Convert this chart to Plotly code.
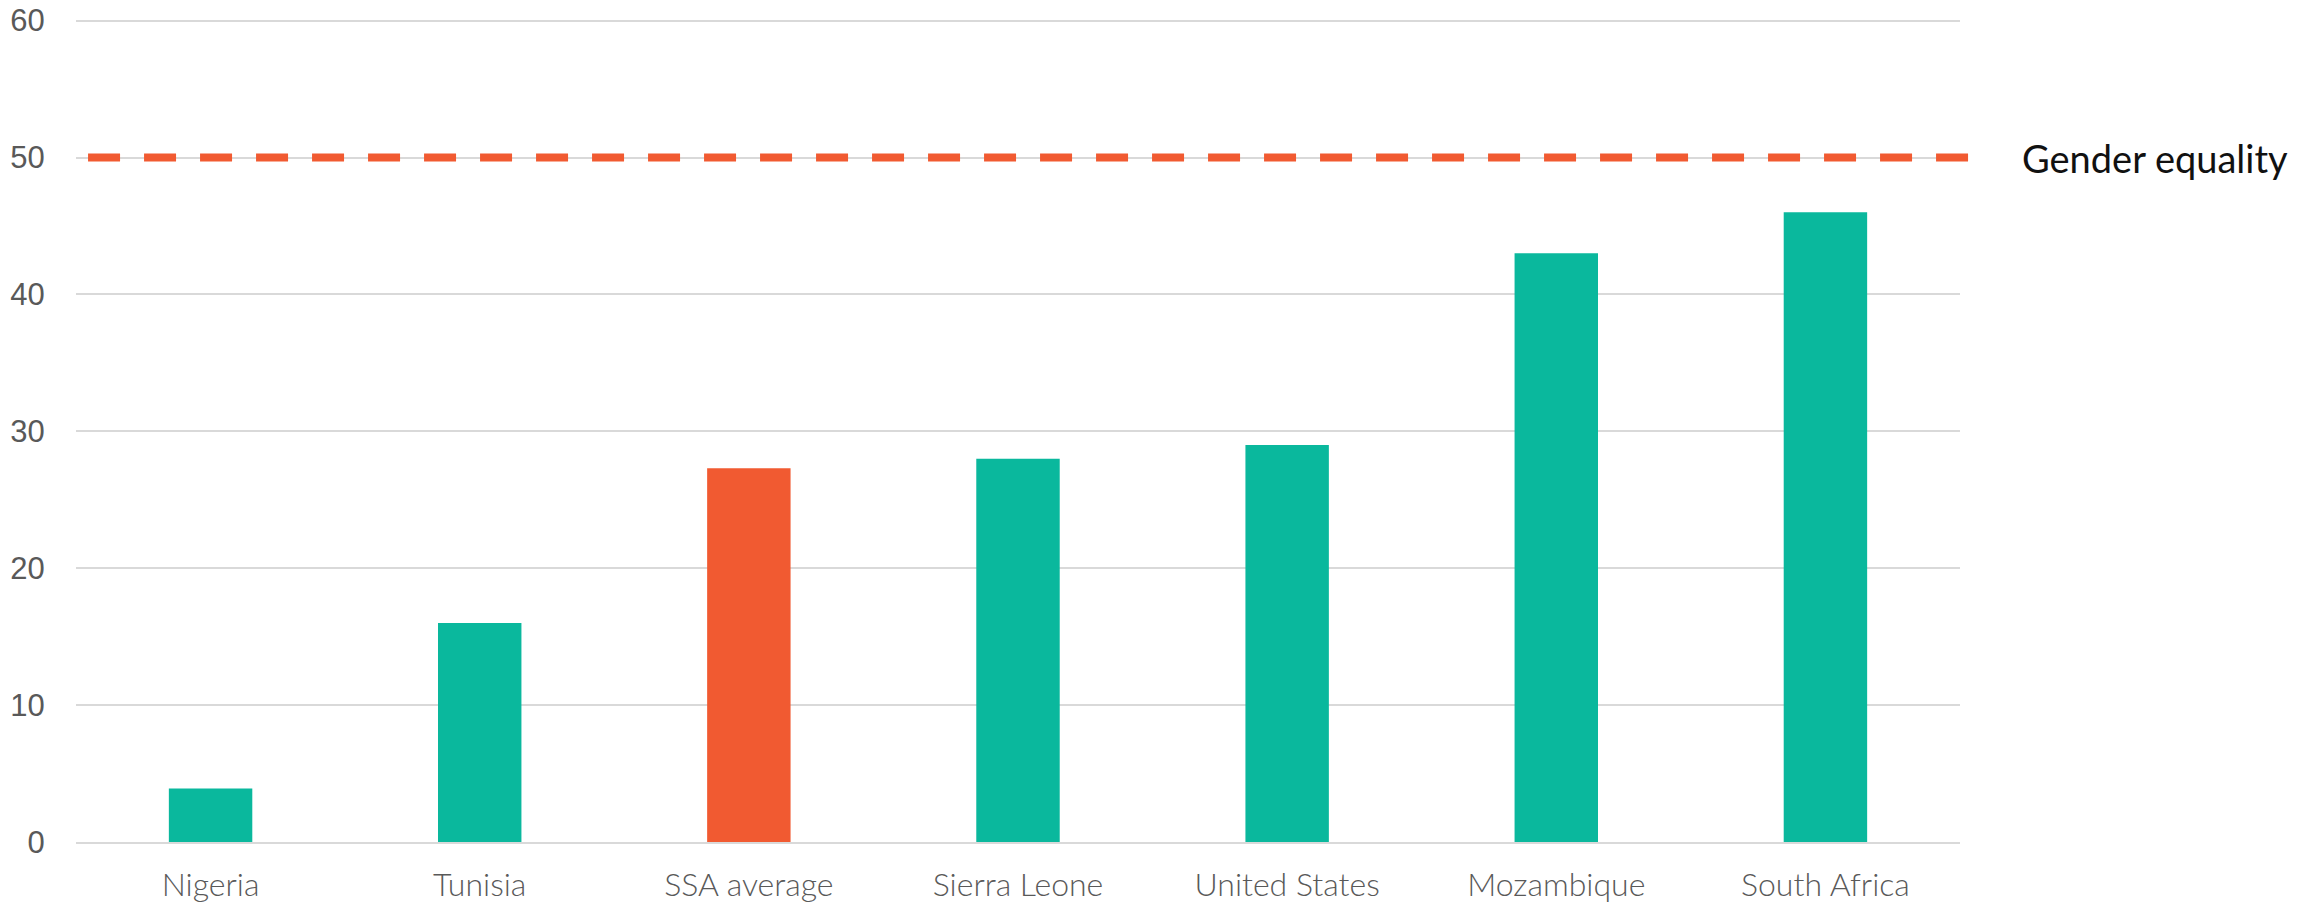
import plotly.graph_objects as go

categories = ["Nigeria", "Tunisia", "SSA average", "Sierra Leone", "United States", "Mozambique", "South Africa"]
values = [3.9, 16, 27.3, 28, 29, 43, 46]
equality_level = 50
equality_label = "Gender equality"
y_ticks = [0, 10, 20, 30, 40, 50, 60]

TEAL = "#0AB89D"
ORANGE = "#F15A31"
colors = [ORANGE if c == "SSA average" else TEAL for c in categories]

fig = go.Figure()
fig.add_trace(go.Bar(x=categories, y=values, marker=dict(color=colors, line=dict(width=0)),
                     showlegend=False, hoverinfo="x+y"))

fig.add_shape(type="line", xref="paper", yref="y", x0=0.0064, x1=1.005,
              y0=equality_level, y1=equality_level,
              line=dict(color=ORANGE, width=8, dash="32px,24px"), layer="above")

fig.add_annotation(xref="paper", yref="y", x=(2020 - 76) / 1884, y=equality_level,
                   text=equality_label, showarrow=False, xanchor="left", yanchor="middle",
                   font=dict(family="Lato", size=38, color="#111111"))

fig.update_layout(
    width=2304, height=908,
    margin=dict(l=76, r=344, t=19, b=66, autoexpand=False),
    plot_bgcolor="white", paper_bgcolor="white",
    bargap=0.69,
    xaxis=dict(showgrid=False, showline=True, linecolor="#d9d9d9", linewidth=2,
               automargin=False,
               ticks="outside", ticklen=14, tickcolor="rgba(0,0,0,0)",
               tickfont=dict(family="Lato", size=32, color="#595959", weight=300)),
    yaxis=dict(range=[0, 60.12], tickvals=y_ticks, showgrid=True, gridcolor="#d9d9d9", gridwidth=2,
               zeroline=False, showline=False, automargin=False,
               ticks="outside", ticklen=24, tickcolor="rgba(0,0,0,0)",
               tickfont=dict(family="Liberation Sans", size=31, color="#595959")),
)

fig.write_html("out.html")
